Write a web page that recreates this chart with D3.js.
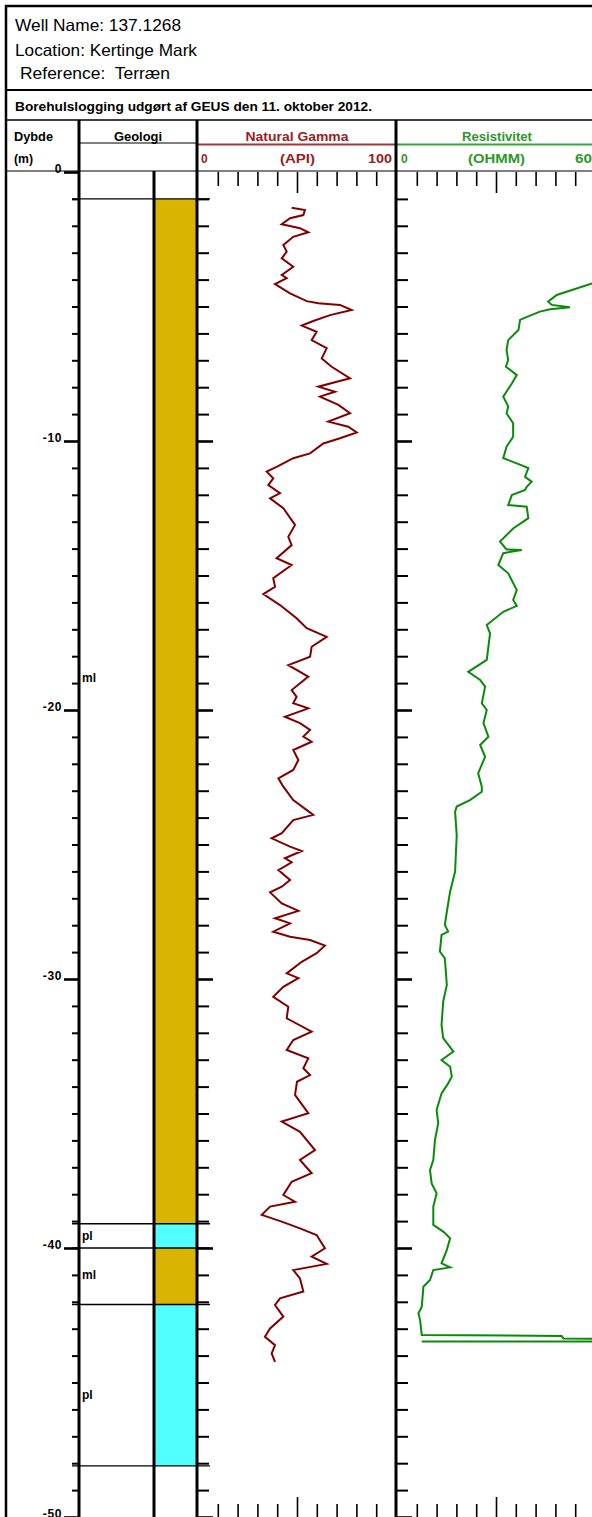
<!DOCTYPE html>
<html>
<head>
<meta charset="utf-8">
<script src="https://cdn.jsdelivr.net/npm/d3@7"></script>
<style>
  body { margin: 0; background: #fff; }
  svg { display: block; font-family: "Liberation Sans", Arial, sans-serif; }
  .tick text { font-family: "Liberation Sans", Arial, sans-serif; }
</style>
</head>
<body>
<div id="chart"></div>
<script>
// Header texts
var wellInfo = ["Well Name: 137.1268", "Location: Kertinge Mark", "Reference:\u00a0 Terræn"];
var loggedBy = "Borehulslogging udgørt af GEUS den 11. oktober 2012.";

// Geology layers (depth in m below terrain)
var layerTop    = [1.0, 39.1, 40.0, 42.1];
var layerBottom = [39.1, 40.0, 42.1, 48.1];
var layerLith   = ["ml", "pl", "ml", "pl"];
var layerLabelDepth = [18.8, 39.55, 41.0, 45.45];
var lithColor = { ml: "#d9b400", pl: "#52ffff" };

// Natural gamma log (API)
var gammaDepth = [1.33,1.41,1.60,1.72,1.94,2.09,2.24,2.41,2.71,2.96,
  3.21,3.52,3.83,3.95,4.17,4.51,4.80,4.88,4.94,5.13,
  5.32,5.54,5.71,5.94,6.25,6.55,6.93,7.24,7.67,7.80,
  7.98,8.17,8.35,8.66,8.97,9.28,9.47,9.68,9.90,10.09,
  10.46,10.64,10.96,11.14,11.39,11.64,11.94,12.13,12.50,13.12,
  13.56,13.87,14.36,14.61,15.10,15.42,15.69,16.10,16.59,16.96,
  17.28,17.65,18.02,18.33,18.76,19.26,19.51,19.75,19.94,20.25,
  20.49,20.74,20.99,21.18,21.49,21.86,22.23,22.54,22.85,23.35,
  23.90,24.09,24.58,24.77,25.08,25.24,25.51,25.66,25.95,26.32,
  26.57,26.78,27.19,27.47,27.74,27.93,28.24,28.43,28.55,28.76,
  29.04,29.36,29.79,29.97,30.29,30.66,31.03,31.46,31.96,32.27,
  32.64,32.95,33.32,33.57,33.82,34.31,34.99,35.30,35.68,36.36,
  36.73,37.22,37.54,38.03,38.28,38.46,38.77,39.02,39.27,39.52,
  40.01,40.32,40.59,40.82,41.13,41.62,41.87,42.12,42.55,42.99,
  43.30,43.61,43.92,44.23];
var gammaApi = [47.3,54.0,53.2,46.5,42.3,51.5,55.7,48.1,43.1,44.8,
  42.3,48.1,42.3,44.8,38.9,46.5,54.9,60.8,71.7,77.6,
  66.7,58.2,52.4,59.9,57.4,65.0,62.5,67.5,76.8,70.1,
  60.8,69.2,61.6,70.9,76.8,65.8,75.9,80.2,71.7,63.3,
  56.6,48.1,39.7,34.7,38.0,35.5,41.4,36.4,43.1,49.0,
  45.6,47.3,39.7,47.3,38.0,38.9,33.0,41.4,49.8,54.9,
  65.0,57.4,56.6,45.6,55.7,47.3,49.8,48.1,55.7,43.9,
  51.5,56.6,53.2,57.4,48.1,50.7,48.1,40.6,43.1,48.1,
  58.2,48.1,42.3,37.2,46.5,52.4,43.9,47.3,40.6,46.5,
  42.3,36.4,42.3,50.7,38.9,46.5,38.0,46.5,56.6,64.1,
  59.9,52.4,44.8,50.7,43.1,38.0,45.6,44.8,57.4,48.1,
  44.8,55.7,53.2,56.6,50.0,49.0,55.7,42.3,51.5,59.1,
  51.5,57.4,47.3,43.1,49.0,36.4,32.2,42.3,51.5,59.9,
  64.1,57.4,65.0,48.1,51.5,53.2,41.4,38.9,43.1,36.4,
  33.8,38.9,37.2,38.9];

// Resistivity log (OHMM)
var resDepth = [3.95,4.14,4.57,4.82,4.94,5.03,5.10,5.19,5.44,5.50,
  5.87,6.25,6.62,6.99,7.24,7.55,7.86,8.35,8.72,8.97,
  9.34,9.84,10.21,10.64,10.83,11.01,11.33,11.51,11.70,11.82,
  12.01,12.38,12.44,12.87,13.25,13.74,14.03,14.05,14.17,14.61,
  14.92,15.54,15.91,16.13,16.35,16.84,17.15,18.14,18.58,18.88,
  19.13,19.75,20.00,20.49,20.99,21.30,21.74,22.35,22.85,23.04,
  23.35,23.59,23.78,24.65,26.01,26.75,27.50,27.99,28.24,28.36,
  28.98,29.23,30.22,30.84,31.71,32.20,32.70,33.01,33.26,33.63,
  33.88,34.25,34.87,35.36,35.99,36.73,37.10,37.60,37.97,38.46,
  39.14,39.39,39.64,40.07,40.57,40.72,40.82,41.19,41.44,42.18,
  42.43,42.68,43.23,43.27,43.36,43.39,43.48,43.48];
var resOhmm = [63,59.1,48.4,45.8,46.9,52.4,46.4,43.3,38.3,37.3,
  36.8,33.7,33.2,33.7,33.0,36.3,34.8,32.2,33.7,33.2,
  35.2,35.2,33.2,32.2,36.3,39.8,38.8,40.8,39.3,38.8,
  34.8,33.7,39.3,39.8,35.2,31.2,33.2,37.8,32.2,30.7,
  33.7,36.3,35.2,36.3,32.2,27.2,28.2,27.2,21.6,25.2,
  26.7,25.7,27.2,26.2,27.7,25.2,26.7,24.6,25.7,25.7,
  22.1,18.1,17.6,18.1,17.6,16.1,15.1,14.5,15.5,13.5,
  13.0,14.5,15.1,14.0,13.5,14.0,17.1,13.5,16.1,16.6,
  15.5,13.5,12.0,12.5,11.5,11.0,10.0,10.5,12.0,11.0,
  11.0,14.0,16.1,15.1,13.5,16.1,11.0,10.0,8.0,7.5,
  6.5,7.0,7.5,49.9,50.4,65,65,7.5];

// Constants:
var width = 592, height = 1517;
var xDepth = 79, xGeoInner = 154, xGeo = 197, xRes0 = 396;
var red = "#9b1c1c", green = "#2f962a";

var svg = d3.select("#chart").append("svg")
  .attr("width", width)
  .attr("height", height);

// Scales
var y = d3.scaleLinear().domain([0, 50]).range([172, 1517]);
var xGamma = d3.scaleLinear().domain([0, 100]).range([198, 396]);
var xOhm = d3.scaleLinear().domain([0, 60]).range([397, 595]);

function hline(y0, x1, x2, w, c) {
  svg.append("line").attr("x1", x1).attr("x2", x2).attr("y1", y0).attr("y2", y0)
    .attr("stroke", c || "#000").attr("stroke-width", w);
}
function vline(x0, y1, y2, w, c) {
  svg.append("line").attr("x1", x0).attr("x2", x0).attr("y1", y1).attr("y2", y2)
    .attr("stroke", c || "#000").attr("stroke-width", w);
}
// Text helper; len squeezes/stretches the glyphs to the measured width
function label(txt, x, yb, opt) {
  var t = svg.append("text").attr("x", x).attr("y", yb).text(txt)
    .attr("font-size", opt.size).attr("fill", opt.color || "#000")
    .attr("font-weight", opt.bold ? "bold" : "normal")
    .attr("text-anchor", opt.anchor || "start");
  if (opt.len) t.attr("textLength", opt.len).attr("lengthAdjust", "spacingAndGlyphs");
  return t;
}

// Geology column fill
layerLith.forEach(function(l, i) {
  svg.append("rect")
    .attr("x", xGeoInner).attr("width", xGeo - xGeoInner)
    .attr("y", y(layerTop[i])).attr("height", y(layerBottom[i]) - y(layerTop[i]))
    .attr("fill", lithColor[l]);
  label(l, 82, y(layerLabelDepth[i]) + 4, { size: 12, bold: true });
});
// Layer boundaries
var bounds = d3.union(layerTop, layerBottom);
bounds.forEach(function(b) { hline(y(b), 72, 210, 1.4); });

// Header frame
hline(6, 5, width, 2.5);
vline(6, 5, height, 2.5);
hline(90, 6, width, 2);
hline(120, 6, width, 1.6);
hline(171, 6, width, 1.2);
hline(143, xDepth, xGeo, 1.2);
hline(144.5, xGeo, xRes0, 2, "#a83434");
hline(144.5, xRes0, width, 2, "#36a636");

// Column separators
vline(xDepth, 120, height, 3);
vline(xGeoInner, 171, height, 3);
vline(xGeo, 120, height, 3);
vline(xRes0, 120, height, 3);

// Header texts
label(wellInfo[0], 15, 31, { size: 16.5, len: 166 });
label(wellInfo[1], 15, 56, { size: 16.5, len: 182 });
label(wellInfo[2], 20, 79, { size: 16.5, len: 150 });
label(loggedBy, 15, 111, { size: 12.5, bold: true, len: 357 });

label("Dybde", 14, 141, { size: 12, bold: true, len: 39 });
label("(m)", 14, 163, { size: 12, bold: true, len: 19 });
label("Geologi", 138, 141, { size: 12, bold: true, anchor: "middle", len: 48 });

label("Natural Gamma", 297, 141, { size: 12, bold: true, anchor: "middle", color: red, len: 103 });
label("0", 201, 163, { size: 12, bold: true, color: red });
label("(API)", 297.5, 163, { size: 12, bold: true, anchor: "middle", color: red, len: 35 });
label("100", 392, 163, { size: 12, bold: true, anchor: "end", color: red, len: 24 });

label("Resistivitet", 497, 141, { size: 12, bold: true, anchor: "middle", color: green, len: 70 });
label("0", 401, 163, { size: 12, bold: true, color: green });
label("(OHMM)", 496.5, 163, { size: 12, bold: true, anchor: "middle", color: green, len: 57 });
label("60", 575, 163, { size: 12, bold: true, color: green, len: 17 });

// Depth axis: minor ticks every metre, major every 10 m with labels
var minorDepth = d3.range(1, 50).filter(function(d) { return d % 10 !== 0; });
var majorDepth = d3.range(0, 51, 10);

function styleAxis(g, w) {
  g.select(".domain").remove();
  g.selectAll(".tick line").attr("stroke", "#000").attr("stroke-width", w);
}

svg.append("g").attr("transform", "translate(" + xDepth + ",0)")
  .call(d3.axisLeft(y).tickValues(minorDepth).tickSize(7).tickFormat(""))
  .call(styleAxis, 2);
svg.append("g").attr("transform", "translate(" + xDepth + ",0)")
  .call(d3.axisLeft(y).tickValues(majorDepth).tickSize(15).tickPadding(2)
    .tickFormat(function(d) { return d === 0 ? "0" : "-" + d; }))
  .call(styleAxis, 2.6)
  .call(function(g) {
    g.selectAll(".tick text").attr("dy", 0).attr("fill", "#000")
      .attr("font-size", 12).attr("font-weight", "bold").attr("letter-spacing", 0.6);
  });

// Track depth ticks (left edge of each log track)
[xGeo, xRes0].forEach(function(x0) {
  svg.append("g").attr("transform", "translate(" + x0 + ",0)")
    .call(d3.axisRight(y).tickValues(minorDepth).tickSize(12).tickFormat(""))
    .call(styleAxis, 2);
  svg.append("g").attr("transform", "translate(" + x0 + ",0)")
    .call(d3.axisRight(y).tickValues(majorDepth.slice(1)).tickSize(16).tickFormat(""))
    .call(styleAxis, 2.6);
});

// Value scale ticks at top and bottom of each track
function scaleTicks(x, minor, major) {
  svg.append("g").attr("transform", "translate(0," + y(0) + ")")
    .call(d3.axisBottom(x).tickValues(minor).tickSize(14).tickFormat(""))
    .call(styleAxis, 1.6);
  svg.append("g").attr("transform", "translate(0," + y(0) + ")")
    .call(d3.axisBottom(x).tickValues(major).tickSize(21).tickFormat(""))
    .call(styleAxis, 1.6);
  svg.append("g").attr("transform", "translate(0," + y(50) + ")")
    .call(d3.axisTop(x).tickValues(minor).tickSize(13).tickFormat(""))
    .call(styleAxis, 1.6);
  svg.append("g").attr("transform", "translate(0," + y(50) + ")")
    .call(d3.axisTop(x).tickValues(major).tickSize(20).tickFormat(""))
    .call(styleAxis, 1.6);
}
scaleTicks(xGamma, [10, 20, 30, 40, 60, 70, 80, 90], [50]);
scaleTicks(xOhm, [6, 12, 18, 24, 36, 42, 48, 54], [30]);

// Log curves
var gammaLine = d3.line()
  .x(function(i) { return xGamma(gammaApi[i]); })
  .y(function(i) { return y(gammaDepth[i]); });
svg.append("path")
  .attr("d", gammaLine(d3.range(gammaDepth.length)))
  .attr("fill", "none").attr("stroke", "#800000").attr("stroke-width", 2)
  .attr("stroke-linejoin", "miter");

var resLine = d3.line()
  .x(function(i) { return xOhm(resOhmm[i]); })
  .y(function(i) { return y(resDepth[i]); });
svg.append("path")
  .attr("d", resLine(d3.range(resDepth.length)))
  .attr("fill", "none").attr("stroke", "#0a8a0a").attr("stroke-width", 2)
  .attr("stroke-linejoin", "miter");
</script>
</body>
</html>
